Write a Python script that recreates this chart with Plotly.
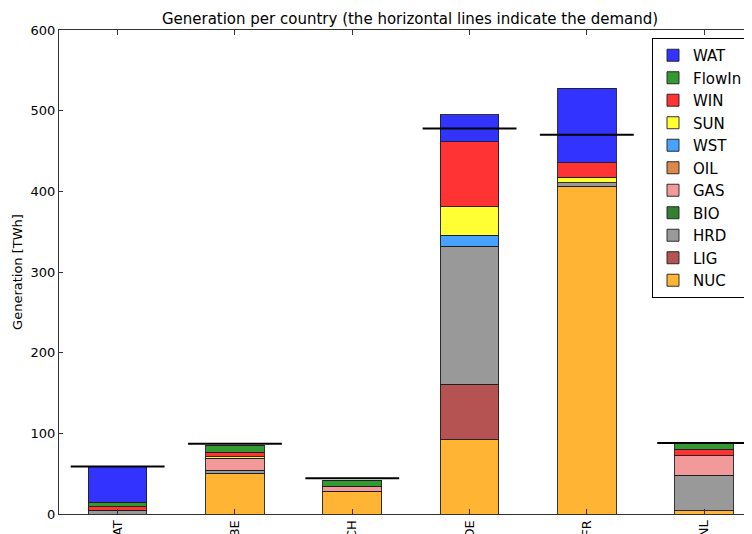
import plotly.graph_objects as go

countries = ["AT", "BE", "CH", "DE", "FR", "NL"]

NUC = [0, 50.4, 28.5, 92, 406.6, 4.3]
LIG = [0, 0, 0, 69, 0, 0]
HRD = [4.5, 3.8, 0, 171, 4, 43.8]
BIO = [0, 0, 0, 0, 0, 0]
GAS = [0, 14, 5.8, 0, 0, 24.2]
OIL = [0, 1, 0, 0, 0, 0]
WST = [0, 0, 0, 13.7, 0, 0]
SUN = [0, 1.5, 0, 35.5, 7, 0]
WIN = [4.6, 5.8, 0, 80, 18, 7.9]
FlowIn = [5.4, 8.6, 7.4, 0, 0, 6.6]
WAT = [44.1, 0, 0, 34, 92, 0]
demand = [59, 87, 44.3, 478, 470, 88]

series = [
    ("NUC", NUC, "rgb(255,180,51)"),
    ("LIG", LIG, "rgb(181,82,82)"),
    ("HRD", HRD, "rgb(153,153,153)"),
    ("BIO", BIO, "rgb(51,128,51)"),
    ("GAS", GAS, "rgb(242,153,153)"),
    ("OIL", OIL, "rgb(220,135,75)"),
    ("WST", WST, "rgb(71,163,255)"),
    ("SUN", SUN, "rgb(255,255,51)"),
    ("WIN", WIN, "rgb(255,51,51)"),
    ("FlowIn", FlowIn, "rgb(51,153,51)"),
    ("WAT", WAT, "rgb(51,51,255)"),
]

xs = list(range(len(countries)))
fig = go.Figure()
for name, vals, col in series:
    fig.add_trace(go.Bar(
        x=xs, y=vals, name=name, width=0.5,
        marker=dict(color=col, line=dict(color="rgba(30,30,30,0.9)", width=1)),
        legendgroup=name,
    ))

lx, ly = [], []
for i, d in enumerate(demand):
    lx += [i - 0.4, i + 0.4, None]
    ly += [d, d, None]
fig.add_trace(go.Scatter(x=lx, y=ly, mode="lines", line=dict(color="black", width=2),
                         showlegend=False, hoverinfo="skip"))

font = "DejaVu Sans"
W, H = 744, 526
fig.update_layout(
    width=W, height=H,
    margin=dict(l=51, r=0, t=22, b=20),
    barmode="stack",
    plot_bgcolor="white", paper_bgcolor="white",
    font=dict(family=font, size=13, color="black"),
    title=dict(text="Generation per country (the horizontal lines indicate the demand)",
               x=402 / W, xref="container", xanchor="center",
               y=1 - 11 / H, yref="container", yanchor="middle",
               font=dict(family=font, size=15, color="black")),
    legend=dict(x=0.8557, y=0.9835, xanchor="left", yanchor="top",
                traceorder="reversed", bgcolor="white",
                bordercolor="black", borderwidth=1,
                font=dict(family=font, size=15, color="black"),
                tracegroupgap=2),
    showlegend=True,
)
fig.update_xaxes(range=[-0.5, 5.408], tickvals=xs, ticktext=countries,
                 tickangle=-90, ticks="inside", ticklen=5, tickcolor="#333",
                 showline=True, linecolor="#333", linewidth=1, mirror="ticks",
                 showgrid=False, zeroline=False, automargin=False,
                 tickfont=dict(family=font, size=13))
fig.update_yaxes(range=[0, 600], dtick=100, ticks="inside", ticklen=4, tickcolor="#333",
                 showline=True, linecolor="#333", linewidth=1,
                 showgrid=False, zeroline=False, automargin=False,
                 title=dict(text="Generation [TWh]", standoff=5, font=dict(family=font, size=13)),
                 tickfont=dict(family=font, size=13))

fig.write_html("out.html")
